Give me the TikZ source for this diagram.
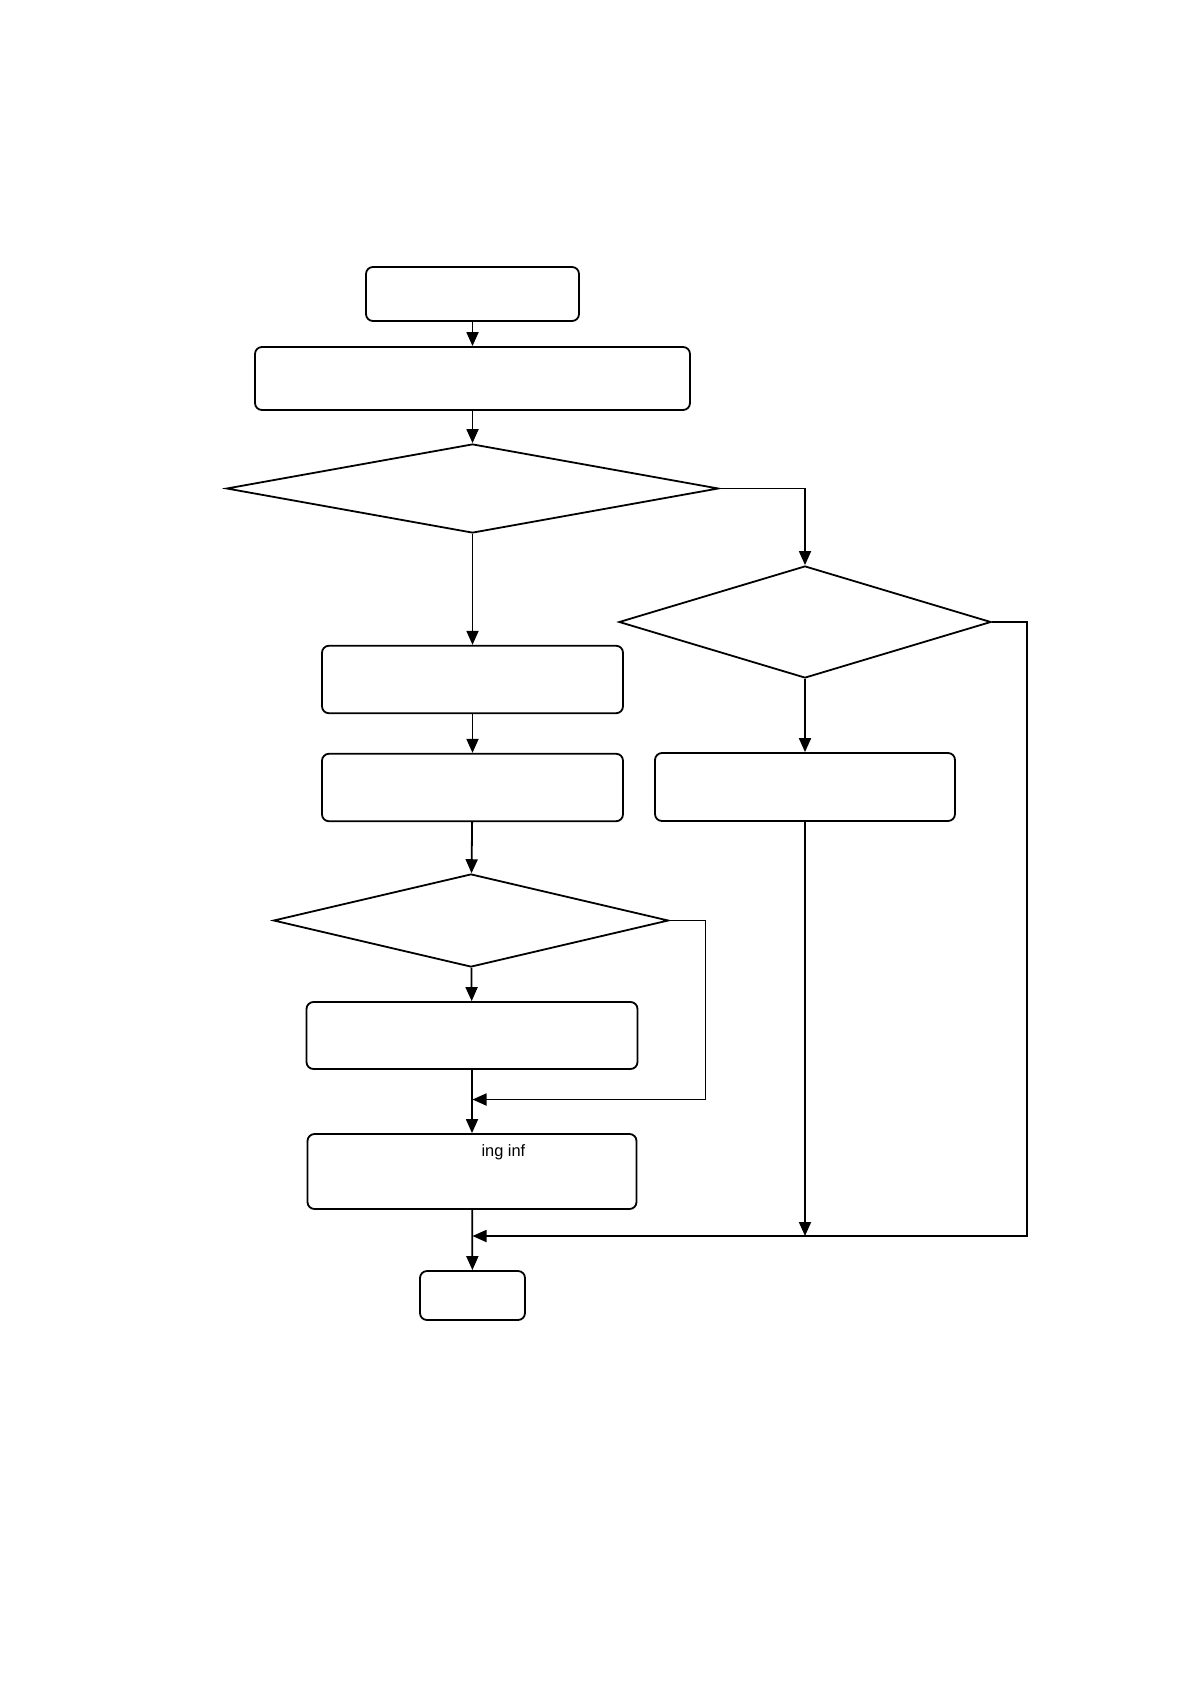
\documentclass[tikz,border=0pt]{standalone}
\usepackage{fontspec}
\setmainfont{Liberation Sans}
\usetikzlibrary{shapes.geometric,arrows.meta}

\begin{document}
\begin{tikzpicture}[x=0.5pt, y=-0.5pt, line width=0.9pt,
  >={Triangle[length=7pt,width=6pt]},
  caja/.style={draw=black, rounded corners=3.5pt, inner sep=0pt},
  rombo/.style={diamond, draw=black, inner sep=0pt}]

% Marco de la pagina
\useasboundingbox (0,0) rectangle (1192,1685);

% Inicio
\node[caja, minimum width=106.5pt, minimum height=27pt] (inicio) at (472.5,294) {};

% Caja ancha
\node[caja, minimum width=217.5pt, minimum height=31.5pt] (prep) at (472.5,378.5) {};

% Primera decision
\node[rombo, minimum width=246pt, minimum height=44.5pt] (dec1) at (472.5,488.5) {};

% Rama izquierda
\node[caja, minimum width=150.5pt, minimum height=33.75pt] (pasoA) at (472.5,679.5) {};
\node[caja, minimum width=150.5pt, minimum height=33.75pt] (pasoB) at (472.5,787.5) {};

% Segunda decision (derecha)
\node[rombo, minimum width=186pt, minimum height=56pt] (dec2) at (805,622) {};
\node[caja, minimum width=150pt, minimum height=34pt] (pasoR) at (805,787) {};

% Tercera decision
\node[rombo, minimum width=197.5pt, minimum height=46.5pt] (dec3) at (471,920.5) {};
\node[caja, minimum width=165.5pt, minimum height=33.5pt] (pasoC) at (472,1035.5) {};

% Caja con texto
\node[caja, minimum width=164.5pt, minimum height=37.5pt] (info) at (472,1171.5) {};
\node[anchor=base, inner sep=0pt, font=\fontsize{8.2}{10}\selectfont] (infotxt) at (503.4,1156) {ing inf};

% Fin
\node[caja, minimum width=52.5pt, minimum height=24.5pt] (fin) at (472.5,1295.5) {};

% Puntos de union
\coordinate (unionA) at (472.5,1099.5);
\coordinate (bordeA) at (705.5,1099.5);
\coordinate (unionB) at (472.5,1236);
\coordinate (bordeB) at (1027,1236);

% Flechas
\draw[->] (inicio) -- (prep);
\draw[->] (prep) -- (dec1);
\draw[->] (dec1.south) -- (pasoA.north);
\draw[->] (pasoA) -- (pasoB);
\draw[->] (pasoB) -- (dec3);
\draw[->] (dec3) -- (pasoC);
\draw[->] (pasoC) -- (info);
\draw[->] (info) -- (fin);
\draw[->] (dec1.east) -| (dec2.north);
\draw[->] (dec2) -- (pasoR);
\draw[->] (pasoR.south) -- (pasoR.south |- unionB);
\draw[->] (dec3.east) -| (bordeA) -- (unionA);
\draw[->] (dec2.east) -| (bordeB) -- (unionB);

\end{tikzpicture}
\end{document}
